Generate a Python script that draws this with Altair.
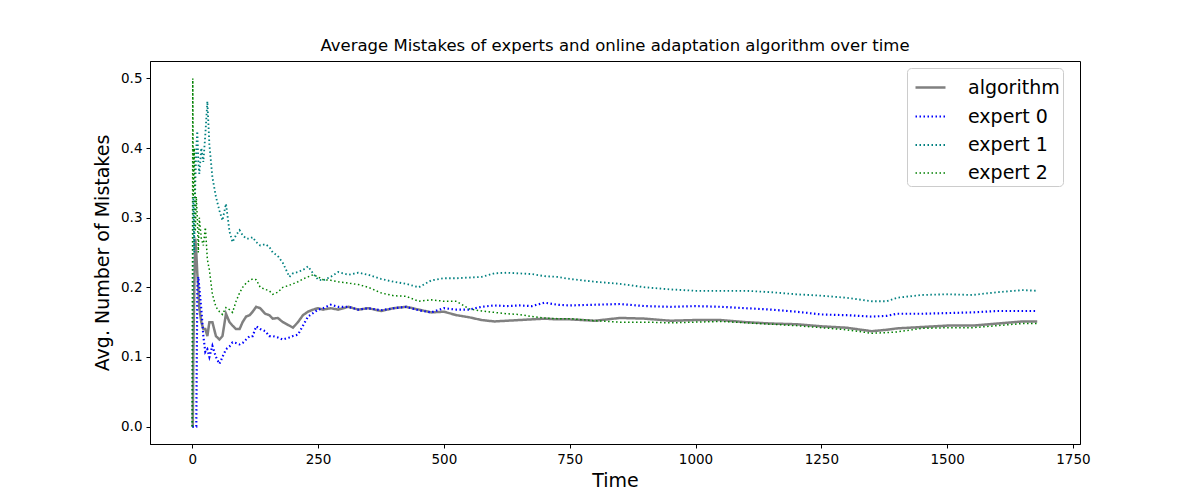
import altair as alt
import pandas as pd

time = [0, 1, 2, 4, 6, 8, 10, 12, 14, 18, 22, 26, 30, 34, 40, 47, 54, 60, 67, 74,
        80, 87, 94, 100, 107, 114, 120, 127, 135, 145, 153, 160, 170, 180, 193, 200,
        210, 220, 230, 240, 250, 260, 275, 290, 310, 330, 350, 375, 400, 425, 450,
        475, 500, 525, 550, 575, 600, 625, 650, 675, 700, 725, 750, 800, 850, 900,
        950, 1000, 1050, 1100, 1150, 1200, 1250, 1300, 1350, 1380, 1400, 1450, 1500,
        1550, 1600, 1650, 1679]

algorithm = [0.0, 0.0, 0.1, 0.2, 0.27, 0.25, 0.22, 0.2, 0.17, 0.15, 0.14, 0.14, 0.13,
             0.15, 0.15, 0.13, 0.125, 0.13, 0.162, 0.15, 0.145, 0.14, 0.14, 0.15,
             0.158, 0.16, 0.165, 0.172, 0.17, 0.162, 0.16, 0.155, 0.156, 0.15, 0.145,
             0.142, 0.15, 0.16, 0.165, 0.168, 0.17, 0.168, 0.17, 0.168, 0.172, 0.168,
             0.17, 0.166, 0.17, 0.172, 0.168, 0.164, 0.165, 0.16, 0.157, 0.153, 0.151,
             0.152, 0.153, 0.154, 0.155, 0.154, 0.154, 0.152, 0.156, 0.155, 0.152,
             0.153, 0.153, 0.15, 0.148, 0.147, 0.144, 0.142, 0.137, 0.139, 0.141,
             0.143, 0.145, 0.145, 0.148, 0.151, 0.151]

expert0 = [0.0, 0.0, 0.0, 0.0, 0.0, 0.0, 0.2, 0.215, 0.2, 0.168, 0.13, 0.107, 0.111,
           0.1, 0.116, 0.1, 0.09, 0.1, 0.111, 0.115, 0.121, 0.12, 0.118, 0.12, 0.125,
           0.13, 0.13, 0.144, 0.14, 0.137, 0.13, 0.13, 0.128, 0.125, 0.128, 0.13,
           0.132, 0.145, 0.158, 0.163, 0.168, 0.17, 0.175, 0.172, 0.172, 0.168, 0.17,
           0.167, 0.17, 0.172, 0.167, 0.164, 0.17, 0.168, 0.168, 0.172, 0.174, 0.173,
           0.174, 0.173, 0.178, 0.175, 0.174, 0.175, 0.176, 0.173, 0.172, 0.173,
           0.172, 0.17, 0.168, 0.165, 0.161, 0.16, 0.158, 0.159, 0.162, 0.162, 0.163,
           0.164, 0.166, 0.166, 0.166]

expert1 = [0.0, 0.2, 0.33, 0.25, 0.35, 0.4, 0.424, 0.38, 0.363, 0.4, 0.38, 0.42,
           0.467, 0.405, 0.358, 0.33, 0.31, 0.296, 0.32, 0.28, 0.265, 0.275, 0.282,
           0.275, 0.27, 0.27, 0.272, 0.265, 0.26, 0.262, 0.258, 0.25, 0.245, 0.235,
           0.215, 0.22, 0.222, 0.225, 0.23, 0.22, 0.211, 0.21, 0.215, 0.222, 0.218,
           0.221, 0.218, 0.212, 0.208, 0.205, 0.2, 0.21, 0.213, 0.213, 0.214, 0.215,
           0.22, 0.221, 0.22, 0.219, 0.216, 0.215, 0.212, 0.208, 0.205, 0.2, 0.197,
           0.195, 0.195, 0.195, 0.193, 0.19, 0.188, 0.185, 0.18, 0.18, 0.185, 0.189,
           0.19, 0.189, 0.193, 0.196, 0.195]

expert2 = [0.0, 0.5, 0.33, 0.4, 0.28, 0.33, 0.3, 0.25, 0.3, 0.27, 0.26, 0.286, 0.24,
           0.225, 0.19, 0.172, 0.165, 0.161, 0.171, 0.168, 0.164, 0.18, 0.192, 0.2,
           0.206, 0.21, 0.212, 0.211, 0.2, 0.197, 0.195, 0.19, 0.193, 0.2, 0.203,
           0.205, 0.208, 0.212, 0.215, 0.218, 0.215, 0.211, 0.21, 0.208, 0.206, 0.204,
           0.2, 0.192, 0.188, 0.187, 0.18, 0.182, 0.18, 0.18, 0.169, 0.166, 0.164,
           0.162, 0.161, 0.158, 0.156, 0.155, 0.155, 0.152, 0.15, 0.15, 0.149, 0.15,
           0.151, 0.149, 0.147, 0.145, 0.142, 0.139, 0.134, 0.135, 0.136, 0.141,
           0.142, 0.142, 0.145, 0.148, 0.148]

series_names = ["algorithm", "expert 0", "expert 1", "expert 2"]
series_values = [algorithm, expert0, expert1, expert2]
series_colors = ["gray", "blue", "teal", "green"]

rows = []
for name, vals in zip(series_names, series_values):
    for t, v in zip(time, vals):
        rows.append({"Time": t, "value": v, "series": name})
df = pd.DataFrame(rows)

dot = [1.5, 2.5]
chart = alt.Chart(df).mark_line(strokeCap="butt").encode(
    x=alt.X("Time:Q",
            scale=alt.Scale(domain=[-84, 1764], nice=False, zero=False),
            axis=alt.Axis(values=[0, 250, 500, 750, 1000, 1250, 1500, 1750],
                          format="d",
                          title="Time", titleFontSize=19, titlePadding=6,
                          labelPadding=4)),
    y=alt.Y("value:Q",
            scale=alt.Scale(domain=[-0.025, 0.525], nice=False, zero=False),
            axis=alt.Axis(values=[0, 0.1, 0.2, 0.3, 0.4, 0.5], format=".1f",
                          title="Avg. Number of Mistakes", titleFontSize=19,
                          titlePadding=8, labelPadding=4)),
    color=alt.Color("series:N",
                    scale=alt.Scale(domain=series_names, range=series_colors),
                    legend=alt.Legend(title=None, orient="none", legendX=757,
                                      legendY=7, symbolType="stroke",
                                      symbolSize=900, symbolStrokeWidth=2,
                                      symbolOffset=4,
                                      labelFontSize=19, labelFont="DejaVu Sans",
                                      labelColor="black",
                                      fillColor="white", strokeColor="#cccccc",
                                      cornerRadius=4, padding=3, rowPadding=2,
                                      labelOffset=21)),
    strokeDash=alt.StrokeDash("series:N",
                              scale=alt.Scale(domain=series_names,
                                              range=[[1, 0], dot, dot, dot]),
                              legend=None),
    strokeWidth=alt.StrokeWidth("series:N",
                                scale=alt.Scale(domain=series_names,
                                                range=[2.5, 1.5, 1.5, 1.5]),
                                legend=None),
    order=alt.Order("Time:Q"),
).properties(
    width=930,
    height=383,
    title=alt.Title("Average Mistakes of experts and online adaptation algorithm over time",
                    fontSize=16.5, fontWeight="normal", font="DejaVu Sans",
                    anchor="middle", offset=7, color="black"),
    autosize=alt.AutoSizeParams(type="none"),
    padding={"left": 142, "top": 53, "right": 112, "bottom": 47},
).configure_view(
    stroke="black", strokeWidth=1
).configure_axis(
    grid=False, domainColor="black", tickColor="black", labelColor="black",
    titleColor="black", labelFont="DejaVu Sans", titleFont="DejaVu Sans",
    labelFontSize=13.5, tickSize=4, titleFontWeight="normal"
)

chart.save("out.html", embed_options={"renderer": "svg", "actions": False})
